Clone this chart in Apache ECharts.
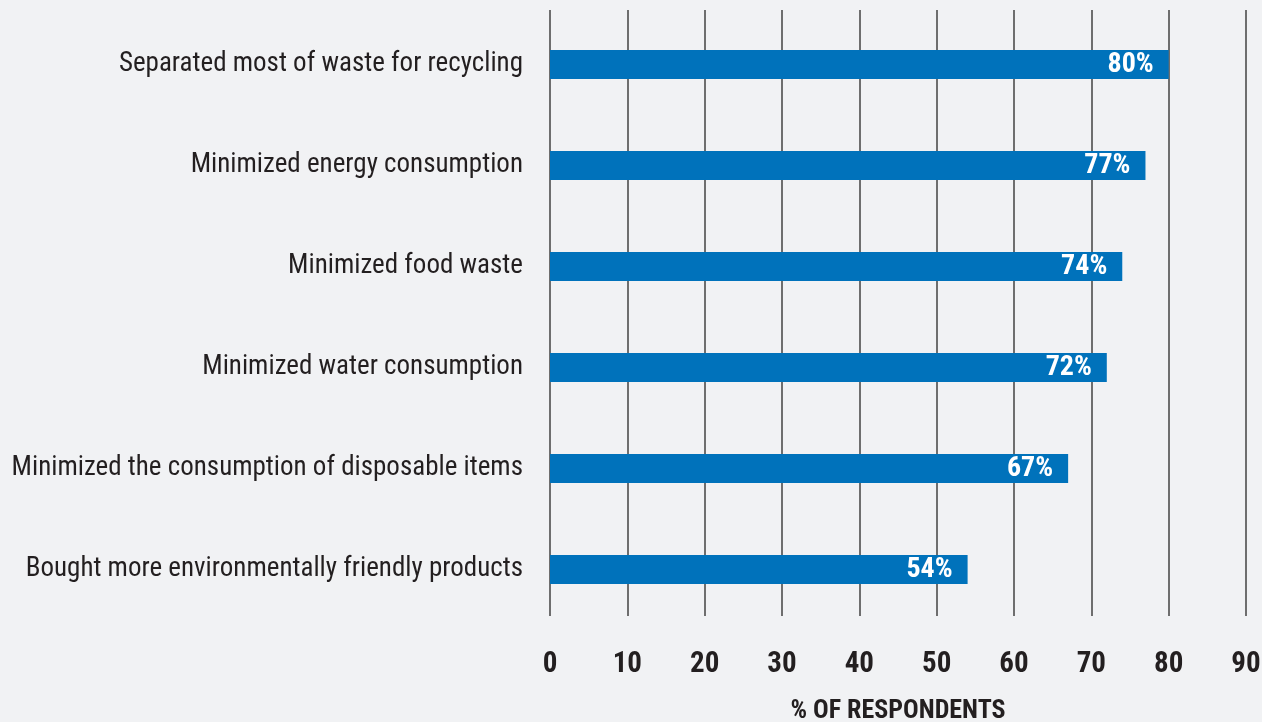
<!DOCTYPE html>
<html>
<head>
<meta charset="utf-8">
<script src="https://cdn.jsdelivr.net/npm/echarts@6/dist/echarts.min.js"></script>
<style>
  html, body { margin: 0; padding: 0; background: #f1f2f4; }
  #chart { width: 1262px; height: 722px; }
</style>
</head>
<body>
<div id="chart"></div>
<script>
// Survey actions, listed bottom-to-top as the category axis draws them
const categories = [
  'Bought more environmentally friendly products',
  'Minimized the consumption of disposable items',
  'Minimized water consumption',
  'Minimized food waste',
  'Minimized energy consumption',
  'Separated most of waste for recycling'
];
const shares = [54, 67, 72, 74, 77, 80];
const axisTicks = [0, 10, 20, 30, 40, 50, 60, 70, 80, 90];
const axisTitle = '% OF RESPONDENTS';

const FONT = '"Roboto Condensed", "DejaVu Sans Condensed", sans-serif';
const INK = '#231f20';
const BAR = '#0072bb';
const GRID = '#6e6e6e';

const chart = echarts.init(document.getElementById('chart'), null, { renderer: 'canvas' });

const xMin = axisTicks[0];
const xMax = axisTicks[axisTicks.length - 1];
const xStep = axisTicks[1] - axisTicks[0];

chart.setOption({
  backgroundColor: '#f1f2f4',
  animation: false,
  grid: [
    // vertical rules
    { left: 550, right: 16, top: 10, bottom: 106, outerBoundsMode: 'none' },
    // bars and labels
    { left: 550, right: 16, top: 14, height: 606, outerBoundsMode: 'none' }
  ],
  xAxis: [
    {
      gridIndex: 0, type: 'value', min: xMin, max: xMax, interval: xStep,
      axisLine: { show: false }, axisTick: { show: false }, axisLabel: { show: false },
      splitLine: { show: true, lineStyle: { color: GRID, width: 2 } }
    },
    {
      gridIndex: 1, type: 'value', min: xMin, max: xMax, interval: xStep,
      axisLine: { show: false }, axisTick: { show: false },
      splitLine: { show: false },
      axisLabel: {
        margin: 30, color: INK, fontFamily: FONT, fontWeight: 'bold', fontSize: 29,
        formatter: v => String(v)
      },
      name: axisTitle, nameLocation: 'middle', nameGap: 78,
      nameTextStyle: { color: INK, fontFamily: FONT, fontWeight: 'bold', fontSize: 26 }
    }
  ],
  yAxis: [
    { gridIndex: 0, type: 'category', data: categories, show: false },
    {
      gridIndex: 1, type: 'category', data: categories,
      axisLine: { show: false }, axisTick: { show: false },
      axisLabel: { margin: 27, color: INK, fontFamily: FONT, fontSize: 27 }
    }
  ],
  series: [
    {
      type: 'bar', xAxisIndex: 1, yAxisIndex: 1, data: shares,
      barWidth: 29,
      itemStyle: { color: BAR },
      label: {
        show: true, position: 'insideRight', distance: 15,
        color: '#ffffff', fontFamily: FONT, fontWeight: 'bold', fontSize: 28,
        formatter: p => p.value + '%'
      }
    }
  ]
});
</script>
</body>
</html>
